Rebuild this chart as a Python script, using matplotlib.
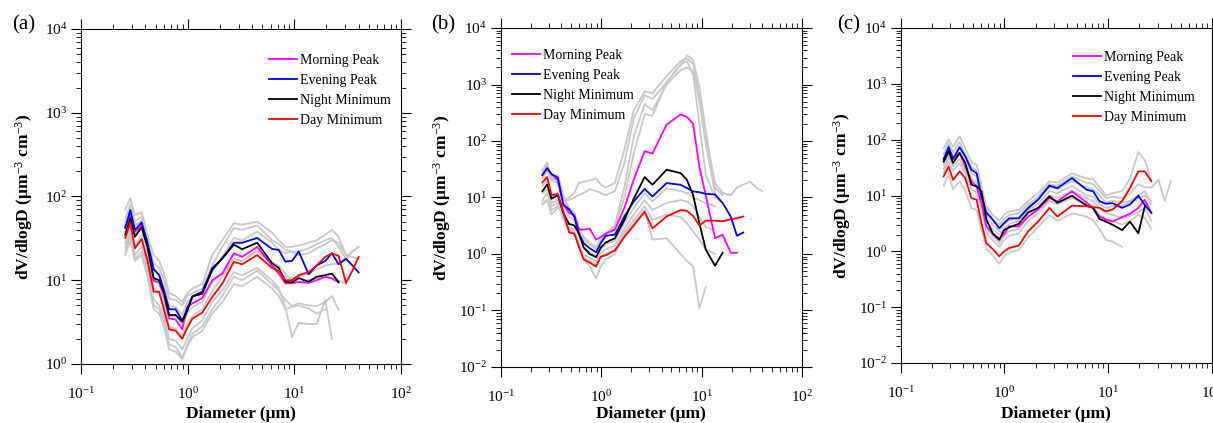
import numpy as np
import matplotlib.pyplot as plt
from matplotlib.ticker import LogLocator, NullFormatter

plt.rcParams['font.family'] = 'Liberation Serif'
plt.rcParams['mathtext.fontset'] = 'custom'
plt.rcParams['mathtext.rm'] = 'Liberation Serif'
plt.rcParams['mathtext.it'] = 'Liberation Serif:italic'
plt.rcParams['mathtext.bf'] = 'Liberation Serif:bold'

nan = np.nan

# diameter grid (um)
diam = [0.26, 0.29, 0.32, 0.37, 0.42, 0.48, 0.54, 0.60, 0.67, 0.77, 0.89, 0.99,
        1.11, 1.37, 1.70, 2.11, 2.71, 3.24, 4.48, 6.18, 7.14, 8.24, 9.5, 11.0,
        13.6, 16.2, 19.5, 22.5, 26, 30.5, 35, 40]

# ---- panel (a)
a_morning = [44, 60, 38, 45, 25, 9.8, 9.5, 6.5, 3.5, 3.4, 2.6, 4.8, 5.3, 6.1, 10, 12, 21, 19, 25, 15, 12, 9.2, 9.2, 9.5,
             9.3, 10, 11, 10.5, 9.4, nan, nan, nan]
a_evening = [42, 69, 40, 49, 28, 13.5, 11.5, 7.5, 4.5, 4.5, 3.3, 4.6, 6.4, 7.3, 14, 18, 28, 28, 32, 23.6, 23, 16.7, 17, 22,
             11.8, 15, 17, 21, 15.5, 18, 15, 12.4]
a_night = [35, 55, 33, 43, 25, 10.6, 10, 7, 3.85, 3.85, 3.2, 4.3, 6.4, 6.9, 13.3, 18.4, 26.5, 23.5, 28, 16, 14, 9.6, 9.4, 10.6,
           9.6, 11, 11.5, 12, 9.5, nan, nan, nan]
a_day = [32, 49, 24, 31, 17, 7.3, 7.3, 4.4, 2.6, 2.5, 2.0, 2.7, 3.5, 4.1, 6.3, 9.1, 16.6, 15.5, 20, 14, 13, 10, 10, 11.5,
         12.5, 15, 19, 21, 19.5, 9.3, 13, 19]
a_gray = [
    [70, 95, 60, 65, 35, 20, 17, 12, 7, 6.5, 5.5, 7, 8, 9, 20, 30, 48, 46, 50, 37, 30, 25, 25, 26, 28, 30, 35, 40, 33, 20, nan, nan],
    [55, 80, 50, 58, 30, 16, 14, 10, 6, 5.8, 5, 6.5, 7, 8, 15, 25, 42, 40, 45, 30, 27, 23, 22, 22, 24, 27, 30, 32, 25, 18, 22, 25],
    [22, 35, 18, 22, 12, 5, 4.5, 3.2, 1.7, 1.6, 1.2, 1.7, 2.3, 2.8, 4.5, 6.5, 11, 10, 13, 9, 7.5, 5.8, 4.9, 5.3, 5.0, 4.9, 5.5, 6.5, 4.4, nan, nan, nan],
    [25, 40, 20, 25, 14, 6, 5, 3.6, 2, 1.9, 1.5, 2, 2.7, 3.3, 5.5, 7.5, 12.5, 11.5, 14, 10, 8, 4.8, 2.1, 3.1, 3.0, 3.0, 5.8, 2.0, nan, nan, nan, nan],
    [28, 45, 25, 35, 18, 8, 7, 5, 2.8, 2.6, 2.2, 3, 3.8, 4.5, 7.5, 11, 18, 17, 22, 16, 12, 11, 10.5, 11, 12, 13.5, 15, 15.5, 16, 19, 22, 25],
    [38, 62, 36, 44, 22, 10, 9, 6, 3.8, 3.7, 3, 4, 4.8, 5.5, 9.5, 12, 18, 17, 23, 16, 15, 12, 9.5, 9.5, 10, 10.5, 11, 10.5, 10, 9, nan, nan],
    [50, 70, 45, 52, 28, 14, 12, 8, 5, 4.8, 3.9, 5.5, 6.5, 7, 13, 19, 32, 30, 38, 28, 23, 21, 22, 20, 21, 24, 27, 30, 28, 20, 19, 18],
    [20, 30, 17, 20, 11, 4.5, 4, 2.8, 1.5, 1.4, 1.15, 1.6, 2.1, 2.5, 4, 5.5, 9, 8.5, 11, 8, 6.5, 4.5, 4.8, 5.0, 4.6, 4.0, 4.5, nan, nan, nan, nan, nan],
]

# ---- panel (b)
b_morning = [25, 33, 26, 20, 7.9, 5.3, 4.9, 2.7, 2.7, 2.8, 1.8, 2.0, 2.3, 2.7, 6.5, 20.6, 66, 60, 195, 294, 267, 200, 35, 11,
             1.9, 2.2, 1.05, 1.05, nan, nan, nan, nan]
b_evening = [25, 33, 26, 22.6, 7.4, 6.2, 4.6, 2.3, 1.55, 1.26, 1.07, 1.55, 2.1, 2.2, 4.6, 8.5, 14.2, 10.4, 18, 16.8, 14.7, 12.8, 12.4, 11.6,
             11.3, 8, 4.6, 2.1, 2.4, nan, nan, nan]
b_night = [13, 17, 9.5, 11, 5.3, 3.4, 3.2, 2.3, 1.3, 1.0, 0.88, 1.3, 1.6, 1.9, 4.0, 9.5, 23, 16.8, 31, 27, 20.6, 11, 3.5, 1.2,
           0.62, 1.05, nan, nan, nan, nan, nan, nan]
b_day = [18.5, 23, 11, 11.6, 5.6, 2.4, 2.3, 1.35, 0.8, 0.7, 0.6, 0.9, 0.95, 1.15, 2.0, 3.2, 5.6, 2.85, 4.6, 6.0, 5.8, 4.7, 3.2, 3.9,
         3.9, 3.8, 4.1, 4.3, 4.6, nan, nan, nan]
b_gray = [
    [7.5, 9, 5, 6.5, 8.5, 10, 12, 18, 19, 20, 22, 17, 15, 18, 70, 350, 750, 700, 1400, 2600, 2900, 2300, 600, 120, 18, 12, 11, 15, 17, 19, 15, 13],
    [8, 9, 6, 7, 9, 9, 10, 11, 12, 14, 13, 12, 11, 13, 40, 250, 650, 550, 1100, 2200, 3300, 2700, 900, 150, 15, 11, nan, nan, nan, nan, nan, nan],
    [30, 42, 22, 25, 11, 6.5, 5.5, 3, 2, 1.6, 1.3, 1.8, 2.3, 3.2, 15, 120, 450, 350, 1000, 1800, 2000, 1700, 500, 90, 12, nan, nan, nan, nan, nan, nan, nan],
    [26, 38, 20, 23, 10, 6, 5, 2.8, 1.8, 1.5, 1.2, 1.6, 2.2, 3.0, 10, 60, 300, 280, 1100, 2300, 2600, 1500, 200, 25, 10, 8, nan, nan, nan, nan, nan, nan],
    [22, 30, 20, 18, 7, 4.5, 4, 2.2, 1.3, 1.1, 0.9, 1.2, 1.5, 1.7, 3.5, 6.5, 12, 8.5, 14.6, 13, 12, 10, 9, 8, 7, nan, nan, nan, nan, nan, nan, nan],
    [16, 20, 10, 12, 5, 3, 2.7, 1.6, 0.95, 0.85, 0.75, 1.05, 1.2, 1.4, 2.8, 5, 9, 6, 8, 9, 8.5, 7, 4.5, 3, 2.6, nan, nan, nan, nan, nan, nan, nan],
    [9, 12, 7, 8, 4, 2.6, 2.4, 1.4, 0.8, 0.6, 0.37, 0.6, 0.8, 1.0, 2.2, 3.5, 6, 1.8, 1.9, 1.0, 0.75, 0.6, 0.11, 0.26, nan, nan, nan, nan, nan, nan, nan, nan],
    [12, 14, 8, 9, 4.5, 2.8, 2.6, 1.5, 0.85, 0.75, 0.65, 0.85, 1.0, 1.2, 2.4, 4, 7, 4, 5, 4.5, 3.5, 2.5, 1.8, 1.2, 1.0, nan, nan, nan, nan, nan, nan, nan],
]

# ---- panel (c)
c_morning = [40, 62, 47, 58, 33, 18, 14.6, 7.3, 2.8, 2.1, 1.7, 2.0, 2.8, 2.8, 4.2, 5.6, 9.0, 7.9, 11.9, 7.5, 6.0, 4.2, 3.7, 3.4,
             4.1, 4.7, 6.0, 8.4, 4.9, nan, nan, nan]
c_evening = [45, 74, 45, 73, 50, 29, 25, 9.7, 4.9, 3.7, 2.6, 3.2, 3.9, 3.9, 6.0, 8.4, 15, 13.6, 20.5, 12.7, 11.9, 7.9, 7.1, 7.3,
             6.0, 6.9, 9.9, 6.8, 4.9, nan, nan, nan]
c_night = [41, 62, 38, 58, 38, 15.6, 14.6, 11.9, 3.7, 2.1, 1.6, 2.4, 2.7, 3.1, 5.0, 6.0, 9.7, 7.4, 9.9, 6.6, 6.0, 3.8, 3.4, 3.0,
           2.4, 3.4, 2.1, 6.4, nan, nan, nan, nan]
c_day = [22, 33, 19, 27, 20.5, 9, 8.4, 3.2, 1.4, 1.1, 0.81, 1.0, 1.15, 1.26, 2.3, 3.4, 6, 4.2, 6.6, 6.4, 6.2, 6.0, 5.2, 5.6,
         7.9, 13.6, 27, 27, 18, nan, nan, nan]
c_gray = [
    [70, 100, 75, 115, 70, 40, 35, 15, 6.5, 4.5, 3.5, 4.5, 5.2, 5.5, 8, 11, 18, 17, 25, 20, 20, 14, 10, 11, 12, 20, 60, 43, 18, nan, nan, nan],
    [55, 85, 60, 90, 55, 32, 28, 12, 5.5, 3.8, 3.0, 3.8, 4.5, 4.8, 7, 9.5, 16, 15, 22, 17, 16, 12, 9, 9.5, 9, 11, 16, 14, 14, 19, 8, 18],
    [35, 55, 40, 55, 35, 20, 17, 8, 3.5, 2.5, 2.0, 2.6, 3.1, 3.5, 5.5, 7, 12, 11, 15, 10, 9.5, 7, 6, 6.5, 6.5, 7.5, 9, 10, 8, nan, nan, nan],
    [25, 40, 28, 38, 25, 13, 11, 5.5, 2.2, 1.6, 1.2, 1.6, 1.9, 2.1, 3.5, 4.8, 8, 7, 9, 7, 6, 4.5, 3.8, 3.5, 3.0, 3.5, 4.5, 4.0, 2.5, nan, nan, nan],
    [15, 24, 13, 18, 12, 6, 5.5, 2.5, 1.1, 0.85, 0.6, 0.8, 0.95, 1.05, 1.8, 2.7, 4.5, 3.5, 4.8, 4.2, 3.6, 2.5, 1.6, 1.5, 1.2, nan, nan, nan, nan, nan, nan, nan],
    [45, 70, 50, 75, 45, 25, 22, 10, 4.2, 3.0, 2.3, 3.0, 3.6, 4.0, 6.5, 9, 14, 13, 18, 14, 13, 10, 7.5, 8, 7.5, 8, 10, 12, 7, nan, nan, nan],
    [30, 48, 33, 45, 28, 16, 14, 6.5, 2.6, 1.9, 1.4, 1.9, 2.3, 2.5, 4.3, 6, 10, 9, 12, 9, 8, 6, 4.8, 4.5, 4.0, 4.3, 5.0, 6.0, 3.5, nan, nan, nan],
]

names = ['Morning Peak', 'Evening Peak', 'Night Minimum', 'Day Minimum']
colors = ['#ff00ff', '#0000ff', '#000000', '#ff0000']


def draw(ax, grays, series, ymin, leg_xy, ylab_x, xlab_y):
    for g in grays:
        ax.plot(diam, g, color='#c8c8c8', lw=1.3)
    handles = []
    for s, c, n in zip(series, colors, names):
        h, = ax.plot(diam, s, color=c, lw=1.3, label=n)
        handles.append(h)
    ax.set_xscale('log')
    ax.set_yscale('log')
    ax.set_xlim(0.1, 100)
    ax.set_ylim(ymin, 1e4)
    ax.xaxis.set_major_locator(LogLocator(base=10, numticks=10))
    ax.xaxis.set_minor_locator(LogLocator(base=10, subs=np.arange(2, 10), numticks=20))
    ax.yaxis.set_major_locator(LogLocator(base=10, numticks=10))
    ax.yaxis.set_minor_locator(LogLocator(base=10, subs=np.arange(2, 10), numticks=20))
    ax.xaxis.set_minor_formatter(NullFormatter())
    ax.yaxis.set_minor_formatter(NullFormatter())
    ax.tick_params(which='both', direction='out', top=True, right=True, labelsize=11)
    ax.tick_params(axis='x', which='major', length=7, pad=9)
    ax.tick_params(axis='y', which='major', length=7, pad=3)
    ax.tick_params(which='minor', length=3.5)
    for sp in ax.spines.values():
        sp.set_linewidth(0.8)
    ax.set_xlabel('Diameter (μm)', fontsize=12.5, fontweight='bold', va='top')
    ax.set_ylabel('dV/dlogD (μm$^{-3}$ cm$^{-3}$)', fontsize=12.5, fontweight='bold')
    ax.xaxis.set_label_coords(0.5, xlab_y)
    ax.yaxis.set_label_coords(ylab_x, 0.5)
    ax.legend(handles=handles, loc='upper left', bbox_to_anchor=leg_xy, frameon=False,
              fontsize=10, handlelength=2.0, handletextpad=0.25, labelspacing=0.5,
              borderpad=0, borderaxespad=0)


fig = plt.figure(figsize=(12.13, 4.23), dpi=100)
ax_a = fig.add_axes([0.0668, 0.1395, 0.2638, 0.792])
ax_b = fig.add_axes([0.4128, 0.1324, 0.2484, 0.8014])
ax_c = fig.add_axes([0.7425, 0.1418, 0.2567, 0.792])

draw(ax_a, a_gray, [a_morning, a_evening, a_night, a_day], 1, (0.5875, 0.925), -0.144, -0.125)
draw(ax_b, b_gray, [b_morning, b_evening, b_night, b_day], 1e-2, (0.0375, 0.938), -0.158, -0.115)
draw(ax_c, c_gray, [c_morning, c_evening, c_night, c_day], 1e-2, (0.553, 0.931), -0.153, -0.128)

# panel tags
fig.text(24 / 1213, 1 - 25 / 423, '(a)', fontsize=15, ha='center', va='center')
fig.text(443 / 1213, 1 - 25 / 423, '(b)', fontsize=15, ha='center', va='center')
fig.text(849 / 1213, 1 - 25 / 423, '(c)', fontsize=15, ha='center', va='center')

fig.savefig('out.png', dpi=100)
